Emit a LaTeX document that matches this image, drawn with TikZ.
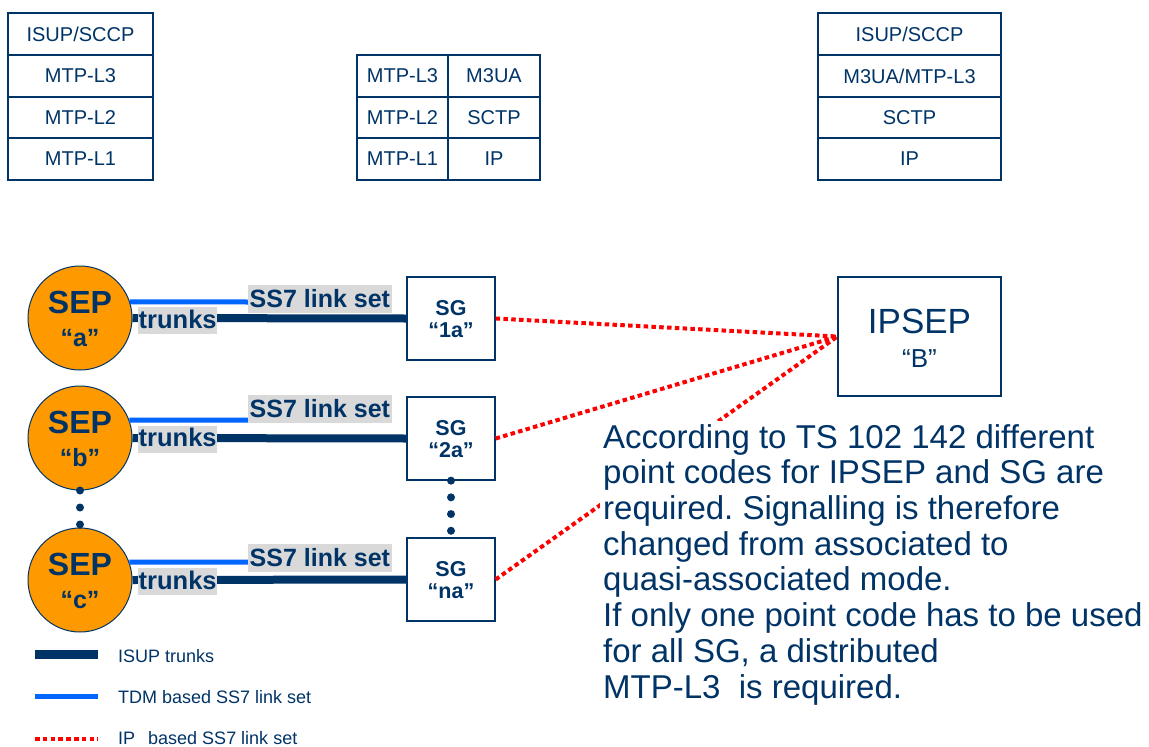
\documentclass[tikz,border=0pt]{standalone}
\usepackage{fontspec}
\setmainfont{Liberation Sans}
\frenchspacing
\definecolor{navy}{RGB}{0,51,102}
\definecolor{sepor}{RGB}{255,153,0}
\definecolor{tdmblue}{RGB}{0,102,255}
\definecolor{lgray}{RGB}{217,217,217}
\definecolor{ipred}{RGB}{255,0,0}
\begin{document}
\begin{tikzpicture}[x=1pt,y=-1pt,
  cell/.style={draw=navy,line width=1.3pt,minimum height=41.8pt,inner sep=0pt,text=navy,font=\fontsize{20}{24}\selectfont},
  sepnode/.style={circle,draw=navy,line width=1pt,fill=sepor,minimum size=104pt,inner sep=0pt},
  septxt/.style={text=navy,font=\bfseries\fontsize{32}{36}\selectfont,inner sep=0pt,anchor=base},
  sepq/.style={text=navy,font=\bfseries\fontsize{25}{30}\selectfont,inner sep=0pt,anchor=base},
  sgbox/.style={draw=navy,line width=1.3pt,fill=white,minimum width=88pt,minimum height=83pt,inner sep=0pt},
  sgtxt/.style={text=navy,font=\bfseries\fontsize{21.5}{26}\selectfont,inner sep=0pt,anchor=base},
  ss7lbl/.style={fill=lgray,text=navy,font=\bfseries\fontsize{25}{30}\selectfont,inner sep=0pt,inner xsep=1.5pt,text height=22pt,text depth=6pt,anchor=west},
  trlbl/.style={fill=lgray,text=navy,font=\bfseries\fontsize{25.5}{30}\selectfont,inner sep=0pt,inner xsep=0.5pt,text height=21pt,text depth=6pt,anchor=west},
  trunk/.style={navy,line width=8pt},
  tdm/.style={tdmblue,line width=5pt},
  ipl/.style={ipred,line width=4pt,dash pattern=on 4.5pt off 3.3pt},
  dotline/.style={navy,line width=8pt,line cap=round},
  legtxt/.style={text=navy,font=\fontsize{18}{22}\selectfont,inner sep=0pt,anchor=base west}
]
\path[use as bounding box] (0,0) rectangle (1149,747);

% ---- protocol stacks ----
\node[cell,minimum width=145pt] (s1a) at (80.5,34) {ISUP/SCCP};
\node[cell,minimum width=145pt] (s1b) at (80.5,76) {MTP-L3};
\node[cell,minimum width=145pt] (s1c) at (80.5,117.5) {MTP-L2};
\node[cell,minimum width=145pt] (s1d) at (80.5,159) {MTP-L1};

\node[cell,minimum width=91pt] (s2a) at (402.5,76) {MTP-L3};
\node[cell,minimum width=91pt] (s2b) at (402.5,117.5) {MTP-L2};
\node[cell,minimum width=91pt] (s2c) at (402.5,159) {MTP-L1};
\node[cell,minimum width=92pt] (s2d) at (494,76) {M3UA};
\node[cell,minimum width=92pt] (s2e) at (494,117.5) {SCTP};
\node[cell,minimum width=92pt] (s2f) at (494,159) {IP};

\node[cell,minimum width=183pt] (s3a) at (909.5,34) {ISUP/SCCP};
\node[cell,minimum width=183pt] (s3b) at (909.5,76) {M3UA/MTP-L3};
\node[cell,minimum width=183pt] (s3c) at (909.5,117.5) {SCTP};
\node[cell,minimum width=183pt] (s3d) at (909.5,159) {IP};

% ---- SEP circles ----
\node[sepnode] (sepa) at (80,318) {};
\node[sepnode] (sepb) at (80,438) {};
\node[sepnode] (sepc) at (80,580) {};
\node[septxt] (sepat) at (80,313) {SEP};
\node[sepq] (sepaq) at (80,346) {“a”};
\node[septxt] (sepbt) at (80,433) {SEP};
\node[sepq] (sepbq) at (80,466) {“b”};
\node[septxt] (sepct) at (80,575) {SEP};
\node[sepq] (sepcq) at (80,608) {“c”};

% ---- SG boxes ----
\node[sgbox] (sga) at (451,318.5) {};
\node[sgbox] (sgb) at (451,438.5) {};
\node[sgbox] (sgn) at (451,579.5) {};
\node[sgtxt] (sgat) at (451,315) {SG};
\node[sgtxt] (sgaq) at (451,337) {“1a”};
\node[sgtxt] (sgbt) at (451,435) {SG};
\node[sgtxt] (sgbq) at (451,457) {“2a”};
\node[sgtxt] (sgnt) at (451,576) {SG};
\node[sgtxt] (sgnq) at (451,598) {“na”};

% ---- IPSEP ----
\node[draw=navy,line width=1.3pt,minimum width=163pt,minimum height=119pt,inner sep=0pt] (ipsep) at (919.5,336.5) {};
\node[text=navy,font=\fontsize{35}{40}\selectfont,inner sep=0pt,anchor=base] (ipsept) at (919.5,333) {IPSEP};
\node[text=navy,font=\fontsize{26}{30}\selectfont,inner sep=0pt,anchor=base] (ipsepq) at (919.5,367) {“B”};

% ---- connectors ----
\coordinate (ea) at (248,302);
\coordinate (eb) at (248,420);
\coordinate (ec) at (248,562);
\draw[trunk] (sepa.east) -- (sga.west);
\draw[trunk] (sepb.east) -- (sgb.west);
\draw[trunk] (sepc.east) -- (sgn.west);
\draw[tdm] (sepa.18) -- (ea);
\draw[tdm] (sepb.20) -- (eb);
\draw[tdm] (sepc.20) -- (ec);
\draw[ipl] (sga.east) -- (ipsep.west);
\draw[ipl] (sgb.east) -- (ipsep.west);
\draw[ipl] (sgn.east) -- (ipsep.west);
\draw[dotline,dash pattern=on 0pt off 17pt] (sepb.south) -- (sepc.north);
\draw[dotline,dash pattern=on 0pt off 16.7pt] (sgb.south) -- (sgn.north);

% ---- labels ----
\node[ss7lbl] (ss7a) at (248,299) {SS7 link set};
\node[ss7lbl] (ss7b) at (248,409) {SS7 link set};
\node[ss7lbl] (ss7c) at (248,558) {SS7 link set};
\node[trlbl] (tra) at (138,320.5) {trunks};
\node[trlbl] (trb) at (138,439) {trunks};
\node[trlbl] (trc) at (138,581.5) {trunks};

% ---- note ----
\node[fill=white,inner sep=3pt,anchor=north west,align=left,text=navy,font=\fontsize{33}{35.7}\selectfont] (note) at (600,421)
{According to TS 102 142 different\\point codes for IPSEP and SG are\\required. Signalling is therefore\\changed from associated to\\quasi-associated mode.\\If only one point code has to be used\\for all SG, a distributed\\MTP-L3\ \ is required.};

% ---- legend ----
\coordinate (l1a) at (35,654); \coordinate (l1b) at (98,654);
\coordinate (l2a) at (35,696); \coordinate (l2b) at (98,696);
\coordinate (l3a) at (35,739); \coordinate (l3b) at (98,739);
\draw[navy,line width=9pt] (l1a) -- (l1b);
\draw[tdm] (l2a) -- (l2b);
\draw[ipl] (l3a) -- (l3b);
\node[legtxt] (lt1) at (118,662) {ISUP trunks};
\node[legtxt] (lt2) at (118,703) {TDM based SS7 link set};
\node[legtxt] (lt3) at (118,744) {IP\hspace{13pt}based SS7 link set};
\end{tikzpicture}
\end{document}
